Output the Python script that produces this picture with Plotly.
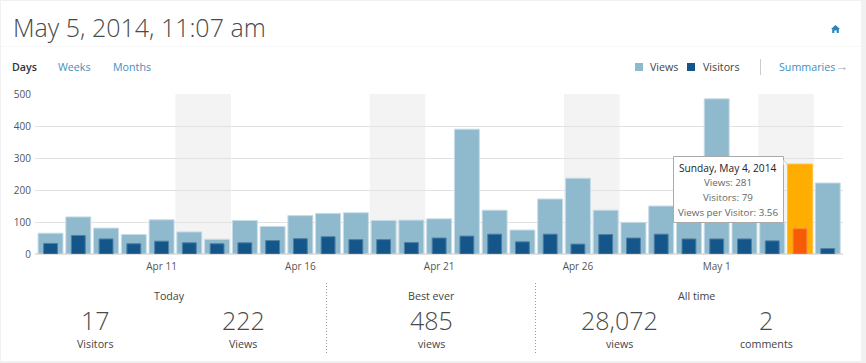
import pandas as pd
import plotly.graph_objects as go

dates = pd.date_range("2014-04-07", "2014-05-05", freq="D")
views = [65, 116, 81, 61, 107, 69, 46, 105, 86, 120, 127, 129, 105, 106, 110,
         390, 137, 75, 172, 237, 137, 99, 150, 110, 485, 105, 100, 281, 222]
visitors = [33, 58, 47, 32, 40, 35, 32, 35, 42, 48, 54, 45, 45, 36, 50,
            56, 62, 38, 62, 31, 61, 50, 62, 47, 47, 47, 41, 79, 17]
weekends = [("2014-04-12", "2014-04-13"), ("2014-04-19", "2014-04-20"),
            ("2014-04-26", "2014-04-27"), ("2014-05-03", "2014-05-04")]
x_ticks = ["2014-04-11", "2014-04-16", "2014-04-21", "2014-04-26", "2014-05-01"]
x_labels = ["Apr 11", "Apr 16", "Apr 21", "Apr 26", "May 1"]
y_ticks = [0, 100, 200, 300, 400, 500]
highlight_index = 27

title = "May 5, 2014, 11:07 am"
tabs = ["Days", "Weeks", "Months"]
stat_heads = ["Today", "Best ever", "All time"]
stat_numbers = ["17", "222", "485", "28,072", "2"]
stat_labels = ["Visitors", "Views", "views", "views", "comments"]

W, H = 866, 363
L, R, T, B = 35, 843, 94, 254
FONT = "Open Sans"
DAY_MS = 86400000

def px(x):
    return (x - L) / (R - L)

def py(y):
    return (B - y) / (B - T)

ann = []
def text(x, y, s, size=10.7, color="#555555", anchor="center", weight=400):
    ann.append(dict(x=px(x), y=py(y), xref="paper", yref="paper", text=s, showarrow=False,
                    xanchor=anchor, yanchor="middle", borderpad=0,
                    font=dict(family=FONT, size=size, color=color, weight=weight)))

shapes = []
def rect(x0, y0, x1, y1, fill, line=None, layer="above"):
    shapes.append(dict(type="rect", xref="paper", yref="paper", x0=px(x0), x1=px(x1),
                       y0=py(y0), y1=py(y1), fillcolor=fill, layer=layer,
                       line=dict(color=line or fill, width=1 if line else 0)))

def seg(x0, y0, x1, y1, color, dash="solid", layer="above"):
    shapes.append(dict(type="line", xref="paper", yref="paper", x0=px(x0), x1=px(x1),
                       y0=py(y0), y1=py(y1), layer=layer, line=dict(color=color, width=1, dash=dash)))

def path(points, fill, line=None):
    d = "M" + " L".join(f"{px(a):.5f},{py(b):.5f}" for a, b in points) + " Z"
    shapes.append(dict(type="path", xref="paper", yref="paper", path=d, fillcolor=fill, layer="above",
                       line=dict(color=line or fill, width=1 if line else 0)))

# panel
rect(1, 1, 861, 361, "#ffffff", layer="below")
seg(1, 46.5, 861, 46.5, "#f8f8f8", layer="below")

# weekend bands
half_day = pd.Timedelta(hours=12)
for a, b in weekends:
    shapes.append(dict(type="rect", xref="x", yref="paper", y0=0, y1=1,
                       x0=pd.Timestamp(a) - half_day, x1=pd.Timestamp(b) + half_day,
                       fillcolor="rgba(120,120,120,0.085)", line=dict(width=0), layer="below"))

# header
text(11.5, 26.5, title, size=25, color="#4a4a4a", anchor="left", weight=300)
text(11, 67, tabs[0], color="#333333", anchor="left", weight=600)
text(57, 67, tabs[1], color="#3f8fc0", anchor="left")
text(111.5, 67, tabs[2], color="#3f8fc0", anchor="left")

# home icon
path([(831, 29), (835.5, 25), (840, 29), (838.8, 29), (838.8, 33), (836.7, 33), (836.7, 30.5),
      (834.3, 30.5), (834.3, 33), (832.2, 33), (832.2, 29)], "#2a85b8")

# legend
rect(635, 63, 643, 71, "#8fb9cd")
text(649, 67, "Views", color="#444444", anchor="left")
rect(687, 63, 695, 71, "#14568a")
text(701.5, 67, "Visitors", color="#444444", anchor="left")
seg(760.5, 59, 760.5, 75, "#cccccc")
text(778, 67, "Summaries", color="#3f8fc0", anchor="left")
text(833.5, 66, "→", size=13, color="#aaaaaa", anchor="left")

# tooltip
rect(673.5, 156.5, 783.5, 222.5, "#ffffff", "#aaaaaa")
path([(783.5, 160), (787, 163.5), (783.5, 165)], "#ffffff")
seg(783.5, 160, 787, 164, "#cccccc")
i = highlight_index
day_label = f"{dates[i].strftime('%A, %B')} {dates[i].day}, {dates[i].year}"
text(728, 168, day_label, size=10.2, color="#222222")
text(728, 182, f"Views: {views[i]}", size=9.8, color="#666666")
text(728, 197, f"Visitors: {visitors[i]}", size=9.8, color="#666666")
text(728, 212, f"Views per Visitor: {views[i] / visitors[i]:.2f}", size=9.8, color="#666666")

# stats
seg(326.5, 283, 326.5, 353, "#999999", dash="1px,2px")
seg(535.5, 283, 535.5, 353, "#999999", dash="1px,2px")
for x, s in zip([169, 431, 696], stat_heads):
    text(x, 295.5, s, color="#444444")
stat_x = [95, 243, 431, 619, 766]
for x, n, lab in zip(stat_x, stat_numbers, stat_labels):
    text(x, 319.5, n, size=25, color="#4a4a4a", weight=300)
    text(x, 343.8, lab, color="#444444")

# bars
view_colors = ["#ffad00" if k == highlight_index else "#8fb9cd" for k in range(len(dates))]
view_lines = ["#ffc040" if k == highlight_index else "#c9dde7" for k in range(len(dates))]
vis_colors = ["#f65c06" if k == highlight_index else "#14568a" for k in range(len(dates))]
vis_lines = ["#f98a3a" if k == highlight_index else "#4f80a6" for k in range(len(dates))]

fig = go.Figure()
fig.add_trace(go.Bar(x=dates, y=views, name="Views", width=0.9 * DAY_MS,
                     marker=dict(color=view_colors, line=dict(color=view_lines, width=1))))
fig.add_trace(go.Bar(x=dates, y=visitors, name="Visitors", width=0.5 * DAY_MS,
                     marker=dict(color=vis_colors, line=dict(color=vis_lines, width=1))))

fig.update_layout(
    width=W, height=H, barmode="overlay", showlegend=False,
    margin=dict(l=L, r=W - R, t=T, b=H - B, autoexpand=False),
    paper_bgcolor="#f1f1f1", plot_bgcolor="rgba(0,0,0,0)",
    font=dict(family=FONT, size=10, color="#555555"),
    shapes=shapes, annotations=ann,
    xaxis=dict(type="date", range=[dates[0] - pd.Timedelta(days=0.56), dates[-1] + pd.Timedelta(days=0.55)],
               tickvals=x_ticks, ticktext=x_labels, showgrid=False, zeroline=False,
               showline=False, ticks="", ticklabelstandoff=5),
    yaxis=dict(range=[0, 500], tickvals=y_ticks, showgrid=True, gridcolor="#e2e2e2", gridwidth=1,
               zeroline=True, zerolinecolor="#e2e2e2", ticks="", ticklabelstandoff=3),
)
fig.write_html("out.html", config={"displayModeBar": False},
               post_script="document.body.style.margin='0';document.documentElement.style.overflow='hidden';")
